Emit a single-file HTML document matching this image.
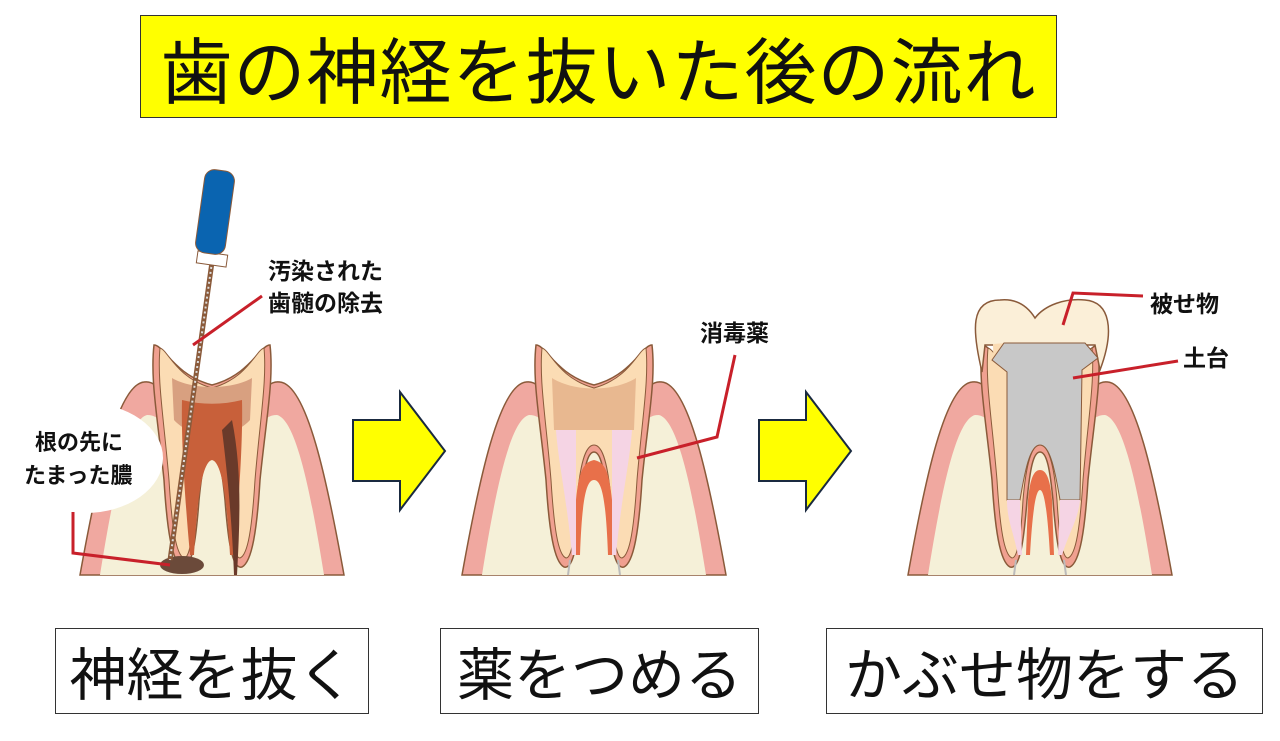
<!DOCTYPE html>
<html><head><meta charset="utf-8"><style>
body{margin:0;width:1280px;height:741px;background:#fff;overflow:hidden;position:relative;font-family:"Liberation Sans","Noto Sans CJK JP",sans-serif}
.box{position:absolute;border:1.5px solid #333;background:#fff;display:flex;align-items:center;justify-content:center;color:#111}
</style></head><body>
<div class="box" style="left:140px;top:15px;width:915px;height:101px;background:#ffff00;font-size:72px;letter-spacing:1px;">歯の神経を抜いた後の流れ</div>
<div class="box" style="left:55px;top:628px;width:312px;height:84px;font-size:57px;">神経を抜く</div>
<div class="box" style="left:440px;top:628px;width:317px;height:84px;font-size:57px;">薬をつめる</div>
<div class="box" style="left:826px;top:628px;width:435px;height:84px;font-size:57px;">かぶせ物をする</div>
<svg width="1280" height="741" style="position:absolute;left:0;top:0" font-family="Liberation Sans, Noto Sans CJK JP, sans-serif">
<defs>
<g id="gum">
<path d="M-132,575 C-115,480 -95,385 -68,382 C-55,380 -50,395 -45,400 L45,400 C50,395 55,380 68,382 C95,385 115,480 132,575 Z" fill="#f0a8a0" stroke="#8a5a3a" stroke-width="1.5"/>
<path d="M-112,575 C-100,500 -85,420 -65,415 C-50,415 -45,430 -45,440 L45,440 C45,430 50,415 65,415 C85,420 100,500 112,575 Z" fill="#f5f0d8"/>
</g>
<path id="root" d="M-58,345 C-48,345 -38,375 0,385 C38,375 48,345 58,345 C62,380 54,420 48,480 C45,530 40,562 30,567 C20,570 16,540 13,500 C10,470 7,452 0,452 C-7,452 -10,470 -13,500 C-16,540 -20,570 -30,567 C-40,562 -45,530 -48,480 C-54,420 -62,380 -58,345 Z" fill="#f0a090" stroke="#8a5a3a" stroke-width="1.5"/>
<path id="dent" d="M-52,348 C-44,350 -36,378 0,388 C36,378 44,350 52,348 C55,380 48,420 43,480 C40,528 36,555 28,558 C22,558 19,535 17,500 C14,465 9,445 0,445 C-9,445 -14,465 -17,500 C-19,535 -22,558 -28,558 C-36,555 -40,528 -43,480 C-48,420 -55,380 -52,348 Z" fill="#fbdcb4" stroke="#8a5a3a" stroke-width="1"/>
<path id="pulp" d="M-30,400 C-10,405 10,405 30,400 C31,440 27,500 22,555 L18,555 C15,500 10,462 0,460 C-10,462 -15,500 -18,555 L-22,555 C-27,500 -31,440 -30,400 Z"/>
</defs>
<g transform="translate(212,0)">
<use href="#gum"/><use href="#root"/><use href="#dent"/>
<path d="M-40,378 C-20,390 20,390 40,378 L38,420 C20,440 -20,440 -38,420 Z" fill="#d8a080"/>
<use href="#pulp" fill="#c8603a"/>
<path d="M20,420 C30,470 28,520 25,575 L22,575 C20,520 15,470 10,430Z" fill="#6a3a2a"/>
<ellipse cx="-30" cy="565" rx="22" ry="9" fill="#6b4a3a"/>
</g>
<line x1="212" y1="262" x2="170" y2="560" stroke="#8a5a3a" stroke-width="5"/>
<line x1="212" y1="262" x2="170" y2="560" stroke="#ddd" stroke-width="2" stroke-dasharray="2 3"/>
<rect x="197" y="253" width="30" height="12" fill="#fff" stroke="#8a5a3a" transform="rotate(8 212 259)"/>
<rect x="200" y="170" width="30" height="84" rx="10" fill="#0a64b0" stroke="#8a5a3a" transform="rotate(8 215 212)"/>
<ellipse cx="85" cy="458" rx="78" ry="55" fill="#fff"/>
<text x="35" y="450" font-size="22" font-weight="bold" fill="#111">根の先に</text>
<text x="24" y="483" font-size="22" font-weight="bold" fill="#111">たまった膿</text>
<polyline points="73,512 73,553 170,565" fill="none" stroke="#c8202a" stroke-width="3"/>
<text x="268" y="279" font-size="23" font-weight="bold" fill="#111">汚染された</text>
<text x="268" y="311" font-size="23" font-weight="bold" fill="#111">歯髄の除去</text>
<line x1="262" y1="296" x2="193" y2="345" stroke="#c8202a" stroke-width="3"/>
<g transform="translate(594,0)">
<use href="#gum"/><use href="#root"/><use href="#dent"/>
<path d="M-42,378 C-20,392 20,392 42,378 L40,430 L-40,430 Z" fill="#e8b890"/>
<path d="M-38,430 L-18,430 L-18,555 L-22,555 C-27,500 -36,460 -38,430Z M38,430 L18,430 L18,555 L22,555 C27,500 36,460 38,430Z" fill="#f5d4e4"/>
<path d="M-18,500 C-15,470 -10,462 0,460 C10,462 15,470 18,500 L18,555 L14,555 C12,500 8,480 0,480 C-8,480 -12,500 -14,555 L-18,555Z" fill="#e8704a"/>
<line x1="-24" y1="560" x2="-26" y2="575" stroke="#bbb" stroke-width="2"/><line x1="24" y1="560" x2="26" y2="575" stroke="#bbb" stroke-width="2"/>
</g>
<text x="700" y="341" font-size="23" font-weight="bold" fill="#111">消毒薬</text>
<polyline points="735,355 717,437 637,458" fill="none" stroke="#c8202a" stroke-width="3"/>
<g transform="translate(1040,0)">
<use href="#gum"/><use href="#root"/><use href="#dent"/>
<path d="M-58,372 C-68,330 -70,300 -40,300 C-20,298 -10,310 -5,318 C5,305 25,298 45,300 C70,302 75,330 60,370 L55,345 L-55,345Z" fill="#fbefd8" stroke="#8a5a3a" stroke-width="1.5"/>
<path d="M-47,344 L-33,343 L-33,510 C-36,470 -46,420 -47,344Z" fill="#fbdcb4"/>
<path d="M-48,360 L-36,343 L45,343 L58,358 L42,370 L40,500 L20,500 C15,470 10,445 0,445 C-10,445 -15,470 -20,500 L-33,500 L-33,372 Z" fill="#c8c8c8" stroke="#8a5a3a" stroke-width="1"/>
<path d="M-33,500 L-20,500 L-18,555 L-22,555 C-27,530 -33,520 -33,500Z M40,500 L20,500 L18,555 L22,555 C30,530 38,520 40,500Z" fill="#f5d4e4"/>
<path d="M-12,500 C-10,478 -6,470 0,470 C6,470 10,478 12,500 L14,555 L10,555 C8,520 5,490 0,490 C-5,490 -8,520 -10,555 L-14,555Z" fill="#e8704a"/>
<line x1="-24" y1="560" x2="-26" y2="575" stroke="#bbb" stroke-width="2"/><line x1="24" y1="560" x2="26" y2="575" stroke="#bbb" stroke-width="2"/>
</g>
<text x="1150" y="312" font-size="23" font-weight="bold" fill="#111">被せ物</text>
<polyline points="1143,296 1073,293 1063,325" fill="none" stroke="#c8202a" stroke-width="3"/>
<text x="1183" y="366" font-size="23" font-weight="bold" fill="#111">土台</text>
<line x1="1178" y1="361" x2="1073" y2="378" stroke="#c8202a" stroke-width="3"/>
<path d="M353,420 L400,420 L400,392 L445,451 L400,510 L400,481 L353,481 Z" fill="#ffff00" stroke="#1a2a40" stroke-width="2"/>
<path d="M759,420 L806,420 L806,392 L851,451 L806,510 L806,481 L759,481 Z" fill="#ffff00" stroke="#1a2a40" stroke-width="2"/>
</svg>
</body></html>
